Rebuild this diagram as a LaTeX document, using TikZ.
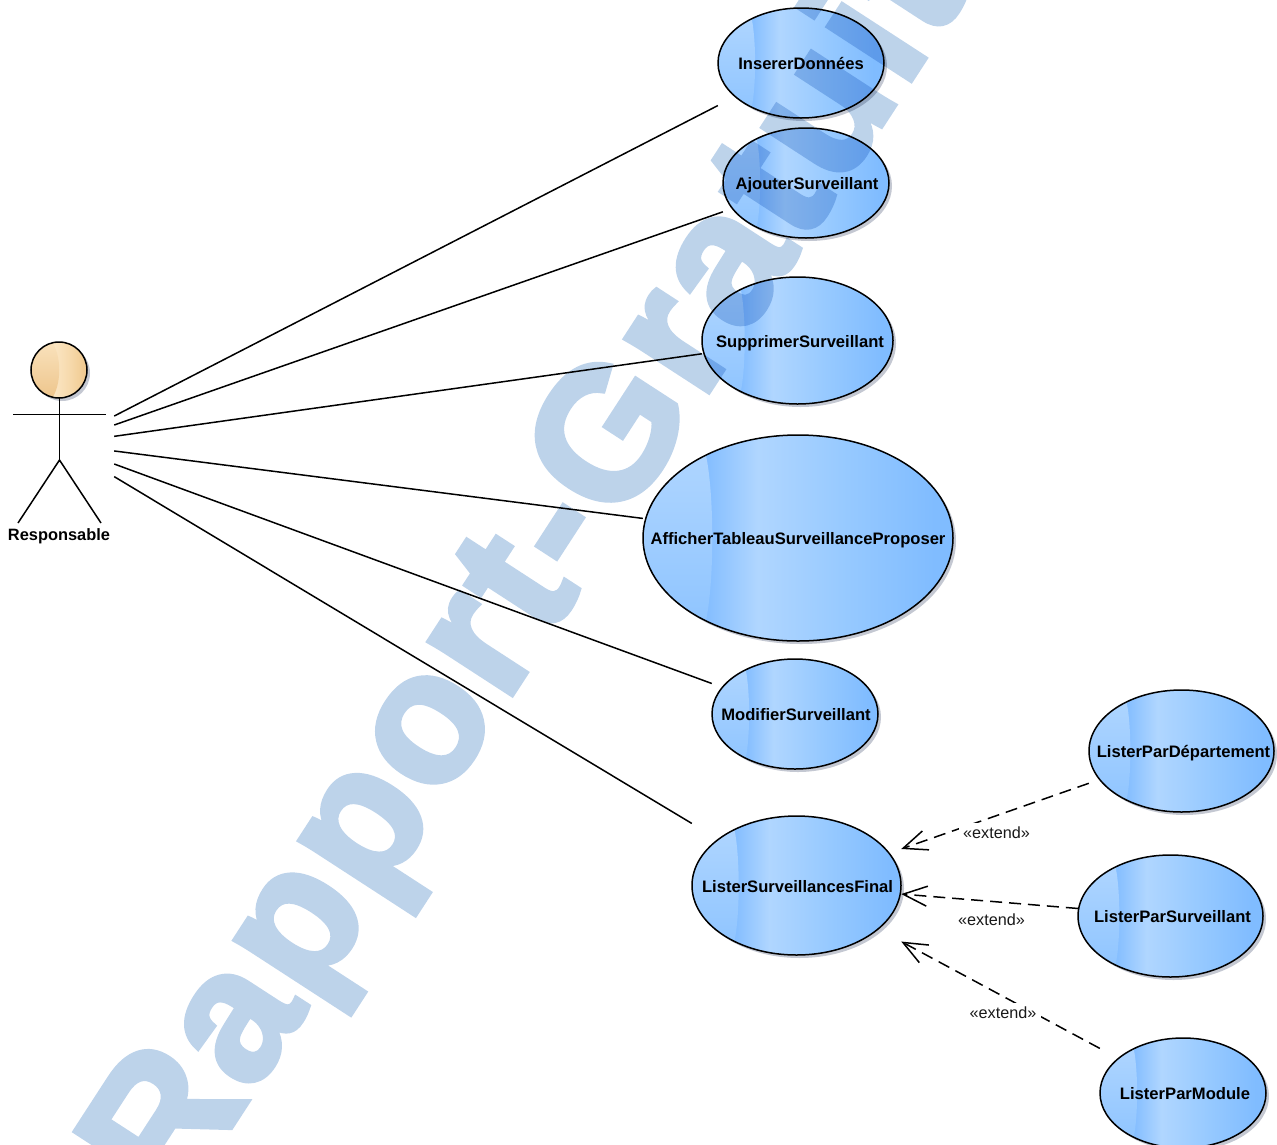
\documentclass[tikz,border=0pt]{standalone}
\usepackage{fontspec}
\setmainfont{Liberation Sans}
\newfontfamily\wmfont[FakeBold=3,LetterSpace=2.7,BoldFont={Liberation Sans Bold}]{Liberation Sans Bold}
\usetikzlibrary{arrows.meta}
\definecolor{ucA}{HTML}{83BDFF}
\definecolor{ucB}{HTML}{B0D6FF}
\definecolor{ucC}{HTML}{96C9FF}
\definecolor{ucD}{HTML}{80BCFF}
\definecolor{ucHi}{HTML}{B2D7FF}
\definecolor{ucLo}{HTML}{8CC3FF}
\definecolor{hdA}{HTML}{EFC98F}
\definecolor{hdB}{HTML}{FBE6C4}
\definecolor{hdC}{HTML}{F6D9AB}
\definecolor{hdD}{HTML}{EFC78C}
\definecolor{hdHi}{HTML}{FAE3BE}
\definecolor{hdLo}{HTML}{EDC48A}
\definecolor{shadowc}{HTML}{C4C8D2}
\definecolor{wm}{HTML}{BDD3EA}
\pgfdeclarehorizontalshading{ucbody}{100bp}{color(0bp)=(ucA); color(25bp)=(ucA); color(35bp)=(ucA); color(43.5bp)=(ucB); color(58bp)=(ucC); color(72bp)=(ucD); color(100bp)=(ucD)}
\pgfdeclarehorizontalshading{headbody}{100bp}{color(0bp)=(hdA); color(25bp)=(hdA); color(37bp)=(hdA); color(45bp)=(hdB); color(60bp)=(hdC); color(75bp)=(hdD); color(100bp)=(hdD)}
\tikzset{
  x=1pt,y=-1pt,
  umlline/.style={line width=1.5pt,black},
  ucoutline/.style={line width=1.5pt,black},
  ucshadow/.style={fill=shadowc,draw=none},
  uctext/.style={rectangle,inner sep=0pt,text=black,font=\fontsize{16.6}{18}\bfseries,text height=13.6pt,text depth=0pt},
  assoc/.style={umlline},
  extendarrow/.style={umlline,dash pattern=on 12pt off 7pt,-{Straight Barb[length=24pt,width=20pt,line width=1.5pt]}},
  extlabel/.style={rectangle,fill=white,inner sep=0pt,minimum width=75pt,minimum height=18pt,text height=13.6pt,text depth=0pt,font=\fontsize{16.2}{18}\selectfont,text=black!90},
  watermark/.style={inner sep=0pt,anchor=base west,rotate=57,text=wm,font=\fontsize{186}{186}\wmfont},
}
% #1 name, #2 cx, #3 cy, #4 rx, #5 ry, #6 text, #7 twice the text's shift to the right
\newcommand{\usecasebox}[7]{%
  \path[ucshadow] (#2+3,#3+3) ellipse [x radius=#4,y radius=#5];
  \path[shading=ucbody] (#2,#3) ellipse [x radius=#4,y radius=#5];
  \begin{scope}
    \clip (#2,#3) ellipse [x radius=#4,y radius=#5];
    \path[top color=ucHi,bottom color=ucLo]
      (#2-#4-2,#3-#5-2) -- (#2-0.592*#4,#3-#5-2) -- (#2-0.592*#4,#3-0.79*#5)
      .. controls (#2-0.54*#4,#3-0.4*#5) and (#2-0.54*#4,#3+0.4*#5) .. (#2-0.592*#4,#3+0.79*#5)
      -- (#2-0.592*#4,#3+#5+2) -- (#2-#4-2,#3+#5+2) -- cycle;
  \end{scope}
  \draw[ucoutline] (#2,#3) ellipse [x radius=#4,y radius=#5];
  \node[uctext,minimum width=2*#4 pt,minimum height=2*#5 pt] (#1) at (#2,#3) {\hspace*{#7pt}#6};
}
\begin{document}
\begin{tikzpicture}
\useasboundingbox (0,0) rectangle (1277,1144);
\clip (0,0) rectangle (1277,1144);

% actor
\path[ucshadow] (62,373) circle [radius=28];
\path[shading=headbody] (59,370) circle [radius=28];
\begin{scope}
  \clip (59,370) circle [radius=28];
  \path[top color=hdHi,bottom color=hdLo]
    (29,340) -- (51,340) .. controls (62,355) and (62,385) .. (51,400) -- (29,400) -- cycle;
\end{scope}
\draw[ucoutline] (59,370) circle [radius=28];
\draw[umlline] (59.5,398) -- (59.5,460);
\draw[umlline] (13,414.5) -- (106,414.5);
\draw[umlline] (18,523) -- (59.5,460) -- (101,523);
\node[rectangle,inner sep=0pt,minimum width=109pt,minimum height=204pt] (actor) at (59.5,444) {};
\node[font=\fontsize{16.4}{18}\bfseries,inner sep=0pt,text=black] (actorlabel) at (59,536) {Responsable};

% use cases
\usecasebox{inserer}{801}{63}{83}{55}{InsererDonnées}{0}
\usecasebox{ajouter}{806}{183}{83}{55}{AjouterSurveillant}{2}
\usecasebox{supprimer}{797.5}{340.5}{95.5}{63.5}{SupprimerSurveillant}{5}
\usecasebox{afficher}{798}{538}{155}{103}{AfficherTableauSurveillanceProposer}{0}
\usecasebox{modifier}{795}{714}{83}{55}{ModifierSurveillant}{2}
\usecasebox{final}{796.5}{885.5}{104.5}{69.5}{ListerSurveillancesFinal}{2}
\usecasebox{departement}{1181.5}{751}{92.5}{61}{ListerParDépartement}{4}
\usecasebox{surveillant}{1170.5}{916}{92.5}{61}{ListerParSurveillant}{4}
\usecasebox{module}{1183}{1093}{83}{55}{ListerParModule}{4}

% associations
\draw[assoc] (actor) -- (inserer);
\draw[assoc] (actor) -- (ajouter);
\draw[assoc] (actor) -- (supprimer);
\draw[assoc] (actor) -- (afficher);
\draw[assoc] (actor) -- (modifier);
\draw[assoc] (actor) -- (final);

% extends
\draw[extendarrow] (departement) -- (final);
\draw[extendarrow] (surveillant) -- (final);
\draw[extendarrow] (module) -- (final);
\node[extlabel] (ext1) at (996.5,832) {«extend»};
\node[extlabel] (ext2) at (991.5,919) {«extend»};
\node[extlabel] (ext3) at (1003,1012) {«extend»};

% watermark
\begin{scope}[transparency group,blend mode=multiply]
\node[watermark] (mark) at (176,1211.6) {Rapport-Gratuit};
\end{scope}
\end{tikzpicture}
\end{document}
